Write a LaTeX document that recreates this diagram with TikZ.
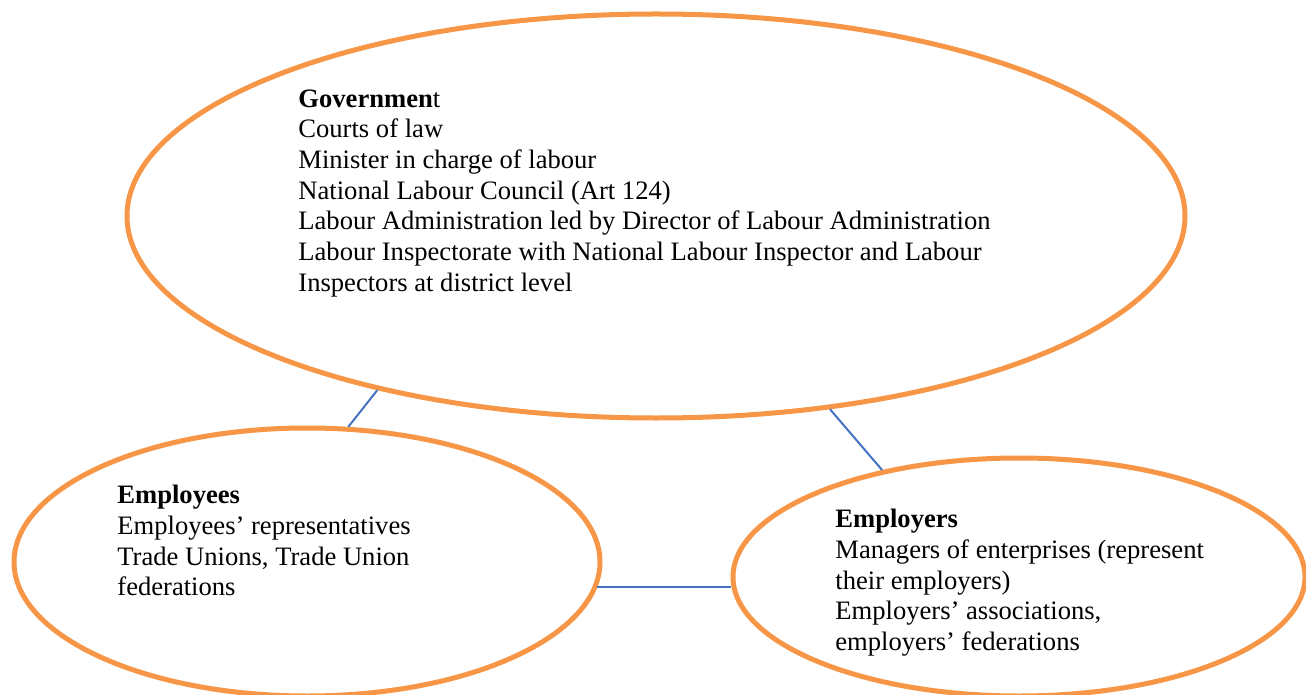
\documentclass[tikz,border=0pt]{standalone}
\usepackage{fontspec}
\setmainfont{Liberation Serif}
\usetikzlibrary{shapes.geometric}
\definecolor{ringorange}{HTML}{F79646}
\definecolor{linkblue}{HTML}{4472C4}

\begin{document}
\begin{tikzpicture}[x=0.5pt,y=-0.5pt,
  party/.style={ellipse, draw=ringorange, line width=2.5pt, inner sep=0pt},
  members/.style={align=left, anchor=north west, inner sep=0pt, font=\fontsize{13.3}{15.35}\selectfont},
  link/.style={draw=linkblue, line width=1pt}]
  \useasboundingbox (0,0) rectangle (1306,695);
  \node [party, minimum width=529pt, minimum height=202pt] (gov) at (656,216) {};
  \node [party, minimum width=293pt, minimum height=134pt] (ees) at (307,562) {};
  \node [party, minimum width=286pt, minimum height=119pt] (ers) at (1019,577) {};
  \node [members] (govtext) at (298,89) {\textbf{Governmen}t\\Courts of law\\Minister in charge of labour\\National Labour Council (Art 124)\\Labour Administration led by Director of Labour Administration\\Labour Inspectorate with National Labour Inspector and Labour\\Inspectors at district level};
  \node [members] (eestext) at (117,485) {\textbf{Employees}\\Employees’ representatives\\Trade Unions, Trade Union\\federations};
  \node [members] (erstext) at (835,509) {\textbf{Employers}\\Managers of enterprises (represent\\their employers)\\Employers’ associations,\\employers’ federations};
  \draw [link] (gov.212.8) -- (ees.73.9);
  \draw [link] (gov.312.4) -- (ers.142.1);
  \draw [link] (ees.355.3) -- (ees.355.3 -| ers.west);
\end{tikzpicture}
\end{document}
